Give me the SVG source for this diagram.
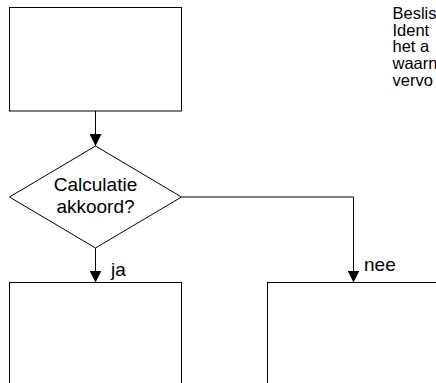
<svg xmlns="http://www.w3.org/2000/svg" width="436" height="383" viewBox="0 0 436 383">
<defs>
<style>
.shape{fill:#fff;stroke:#000;stroke-width:1}
.conn{fill:none;stroke:#000;stroke-width:1}
.t{font-family:"Liberation Sans",Arial,sans-serif;fill:#000}
</style>
<marker id="arr" viewBox="0 0 12 12" refX="12" refY="6" markerWidth="12" markerHeight="12" markerUnits="userSpaceOnUse" orient="auto">
<path d="M0,0 L12,6 L0,12 Z" fill="#000"/>
</marker>
</defs>
<rect width="436" height="383" fill="#fff"/>
<g id="note">
<text class="t" font-size="16.5" x="392.5" y="19">Beslis</text>
<text class="t" font-size="16.5" x="392.5" y="35.7">Ident</text>
<text class="t" font-size="16.5" x="392.5" y="52.4">het a</text>
<text class="t" font-size="16.5" x="392.5" y="69.1">waarn</text>
<text class="t" font-size="16.5" x="392.5" y="85.8">vervo</text>
</g>
<g id="box-top"><rect class="shape" x="9.5" y="7.5" width="172" height="103.5"/></g>
<g id="decision">
<path class="shape" d="M95.5,146 L181.5,197 L95.5,248 L9.5,197 Z"/>
<text class="t" font-size="19" x="95.5" y="191" text-anchor="middle">Calculatie</text>
<text class="t" font-size="19" x="95.5" y="213" text-anchor="middle">akkoord?</text>
</g>
<g id="box-ja"><rect class="shape" x="9.5" y="282.5" width="172" height="120"/></g>
<g id="box-nee"><rect class="shape" x="267.5" y="282.5" width="200" height="120"/></g>
<g id="connectors">
<path class="conn" d="M95.5,111 L95.5,146" marker-end="url(#arr)"/>
<path class="conn" d="M95.5,248 L95.5,282.5" marker-end="url(#arr)"/>
<path class="conn" d="M181.5,197 L353.5,197 L353.5,282.5" marker-end="url(#arr)"/>
<text class="t" font-size="19" x="111" y="276">ja</text>
<text class="t" font-size="19" x="364" y="271">nee</text>
</g>
</svg>
